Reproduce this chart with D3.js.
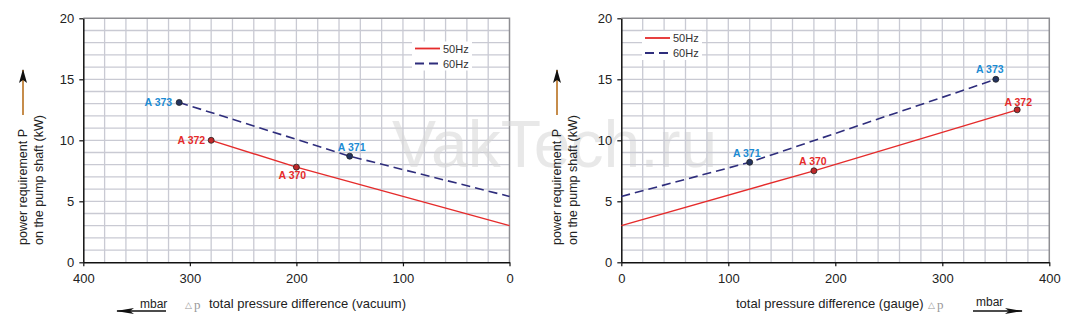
<!DOCTYPE html>
<html>
<head>
<meta charset="utf-8">
<script src="https://cdn.jsdelivr.net/npm/d3@7"></script>
<style>
  html, body { margin: 0; padding: 0; background: #fff; }
  svg { display: block; font-family: "Liberation Sans", Arial, sans-serif; }
</style>
</head>
<body>
<svg id="chart" width="1075" height="332"></svg>
<script>
// Power requirement on the pump shaft vs. total pressure difference
const yTicks = [0, 5, 10, 15, 20];
const xTicks = [0, 100, 200, 300, 400];

// Vacuum operation (left panel)
const vac50 = [{p: 280, kw: 10.0, label: "A 372"}, {p: 200, kw: 7.8, label: "A 370"}, {p: 0, kw: 3.0}];
const vac60 = [{p: 310, kw: 13.1, label: "A 373"}, {p: 150, kw: 8.7, label: "A 371"}, {p: 0, kw: 5.4}];

// Gauge (compressor) operation (right panel)
const gau50 = [{p: 0, kw: 3.0}, {p: 180, kw: 7.5, label: "A 370"}, {p: 370, kw: 12.5, label: "A 372"}];
const gau60 = [{p: 0, kw: 5.4}, {p: 120, kw: 8.2, label: "A 371"}, {p: 350, kw: 15.0, label: "A 373"}];

const seriesNames = ["50Hz", "60Hz"];

const RED = "#e52b2b", NAVY = "#2e2d7c", BLUE = "#1b8bd3";
const svg = d3.select("#chart");

// arrow heads: a short one for the vertical axis titles, a long one for the unit arrows
const defs = svg.append("defs");
defs.append("marker").attr("id", "headUp").attr("markerUnits", "userSpaceOnUse")
  .attr("viewBox", "0 0 14 8").attr("refX", 13).attr("refY", 4)
  .attr("markerWidth", 14).attr("markerHeight", 8).attr("orient", "auto")
  .append("path").attr("d", "M0,0 L14,4 L0,8 L3,4 Z").attr("fill", "#111");
defs.append("marker").attr("id", "headLong").attr("markerUnits", "userSpaceOnUse")
  .attr("viewBox", "0 0 18 7").attr("refX", 17).attr("refY", 3.5)
  .attr("markerWidth", 18).attr("markerHeight", 7).attr("orient", "auto")
  .append("path").attr("d", "M0,0.5 L18,3.5 L0,6.5 L4,3.5 Z").attr("fill", "#111");

function panel(opt) {
  const x = d3.scaleLinear().domain(opt.xDomain).range([opt.left, opt.right]);
  const y = d3.scaleLinear().domain([0, 20]).range([262.3, 18.3]);
  const g = svg.append("g");

  // grid
  const grid = g.append("g").attr("stroke", "#c9cad3").attr("stroke-width", 1.3);
  d3.range(20, 400, 20).forEach(v => grid.append("line")
    .attr("x1", x(v)).attr("x2", x(v)).attr("y1", y(0)).attr("y2", y(20)));
  d3.range(1, 20, 1).forEach(v => grid.append("line")
    .attr("x1", opt.left).attr("x2", opt.right).attr("y1", y(v)).attr("y2", y(v)));

  // frame (top and right)
  g.append("path")
    .attr("d", `M${opt.left},${y(20)} H${opt.right} V${y(0)}`)
    .attr("fill", "none").attr("stroke", "#8e8e92").attr("stroke-width", 1.5);

  // axes
  const ax = g.append("g").attr("transform", `translate(0,${y(0)})`)
    .call(d3.axisBottom(x).tickValues(xTicks).tickSize(4).tickSizeOuter(0).tickPadding(7));
  const ay = g.append("g").attr("transform", `translate(${opt.left},0)`)
    .call(d3.axisLeft(y).tickValues(yTicks).tickSize(4).tickSizeOuter(0).tickPadding(5));
  [ax, ay].forEach(a => {
    a.select(".domain").attr("stroke", "#111").attr("stroke-width", 1.5);
    a.selectAll(".tick line").attr("stroke", "#111").attr("stroke-width", 1.2);
    a.selectAll(".tick text").attr("fill", "#222").style("font-size", "13px")
      .style("font-family", "'Liberation Sans', Arial, sans-serif");
  });

  // watermark
  if (opt.watermark) {
    svg.append("text").attr("x", 392).attr("y", 167).text("VakTech.ru")
      .attr("fill", "#d6d6d6").attr("fill-opacity", 0.55).style("font-size", "66px");
  }

  // legend
  const lg = g.append("g");
  lg.append("rect").attr("x", opt.legX).attr("y", opt.legY - 7).attr("width", 60).attr("height", 29).attr("fill", "#fff");
  [[opt.s50, RED, null], [opt.s60, NAVY, "9,5"]].forEach((s, i) => {
    const ly = opt.legY + i * 15;
    lg.append("line").attr("x1", opt.legX + 3).attr("x2", opt.legX + 28)
      .attr("y1", ly).attr("y2", ly).attr("stroke", s[1]).attr("stroke-width", 1.8)
      .attr("stroke-dasharray", s[2]);
    lg.append("text").attr("x", opt.legX + 31).attr("y", ly + 4)
      .text(seriesNames[i]).attr("fill", "#333").style("font-size", "11px");
  });

  const line = d3.line().x(d => x(d.p)).y(d => y(d.kw));
  g.append("path").datum(opt.s60).attr("d", line).attr("fill", "none")
    .attr("stroke", NAVY).attr("stroke-width", 1.6).attr("stroke-dasharray", "9,5");
  g.append("path").datum(opt.s50).attr("d", line).attr("fill", "none")
    .attr("stroke", RED).attr("stroke-width", 1.4);

  // operating points
  [[opt.s50, RED, "#c0282a"], [opt.s60, BLUE, "#23335f"]].forEach(([s, tc, fc]) => {
    s.filter(d => d.label).forEach(d => {
      g.append("circle").attr("cx", x(d.p)).attr("cy", y(d.kw)).attr("r", 3)
        .attr("fill", fc).attr("stroke", "#222").attr("stroke-width", 0.8);
      const pos = opt.labelPos[d.label];
      g.append("text").attr("x", x(d.p) + pos[0]).attr("y", y(d.kw) + pos[1])
        .attr("text-anchor", pos[2]).text(d.label)
        .attr("fill", tc).style("font-size", "10.5px").style("font-weight", "bold");
    });
  });

  // y axis title with arrow
  const ty = g.append("g");
  ty.append("text").attr("transform", `translate(${opt.yLab},245) rotate(-90)`)
    .text("power requirement P").attr("fill", "#222").style("font-size", "12.5px");
  ty.append("text").attr("transform", `translate(${opt.yLab + 16},245) rotate(-90)`)
    .text("on the pump shaft (kW)").attr("fill", "#222").style("font-size", "12.5px");
  ty.append("line").attr("x1", opt.yLab - 4).attr("x2", opt.yLab - 4)
    .attr("y1", 115).attr("y2", 70).attr("stroke", "#b8701e").attr("stroke-width", 1.6)
    .attr("marker-end", "url(#headUp)");

  opt.xTitle(g);
}

panel({
  xDomain: [400, 0], left: 83.3, right: 509.5,
  s50: vac50, s60: vac60, legX: 412, legY: 48.5, yLab: 27, watermark: true,
  labelPos: {"A 373": [-7, 4, "end"], "A 372": [-6, 4, "end"], "A 370": [-4, 12, "middle"], "A 371": [2, -5, "middle"]},
  xTitle: g => {
    g.append("text").attr("x", 140).attr("y", 307.5).text("mbar").attr("fill", "#222").style("font-size", "12px");
    g.append("line").attr("x1", 166).attr("x2", 117).attr("y1", 311).attr("y2", 311)
      .attr("stroke", "#111").attr("stroke-width", 1.3).attr("marker-end", "url(#headLong)");
    g.append("text").attr("x", 185).attr("y", 307.5).text("\u25B3").attr("fill", "#999").style("font-size", "9px");
    g.append("text").attr("x", 194).attr("y", 309).text("p").attr("fill", "#999")
      .style("font-size", "13px").style("font-family", "'Liberation Serif', serif");
    g.append("text").attr("x", 209).attr("y", 307.5).text("total pressure difference (vacuum)")
      .attr("fill", "#222").style("font-size", "13px");
  }
});

panel({
  xDomain: [0, 400], left: 621.3, right: 1049.3,
  s50: gau50, s60: gau60, legX: 642, legY: 38, yLab: 561,
  labelPos: {"A 371": [-3, -5, "middle"], "A 370": [-1, -6, "middle"], "A 373": [-6, -6, "middle"], "A 372": [1, -4, "middle"]},
  xTitle: g => {
    g.append("text").attr("x", 736).attr("y", 307.5).text("total pressure difference (gauge)")
      .attr("fill", "#222").style("font-size", "13px");
    g.append("text").attr("x", 928).attr("y", 307.5).text("\u25B3").attr("fill", "#999").style("font-size", "9px");
    g.append("text").attr("x", 937).attr("y", 309).text("p").attr("fill", "#999")
      .style("font-size", "13px").style("font-family", "'Liberation Serif', serif");
    g.append("text").attr("x", 976).attr("y", 305.5).text("mbar").attr("fill", "#222").style("font-size", "12px");
    g.append("line").attr("x1", 973).attr("x2", 1022).attr("y1", 311).attr("y2", 311)
      .attr("stroke", "#111").attr("stroke-width", 1.3).attr("marker-end", "url(#headLong)");
  }
});
</script>
</body>
</html>
